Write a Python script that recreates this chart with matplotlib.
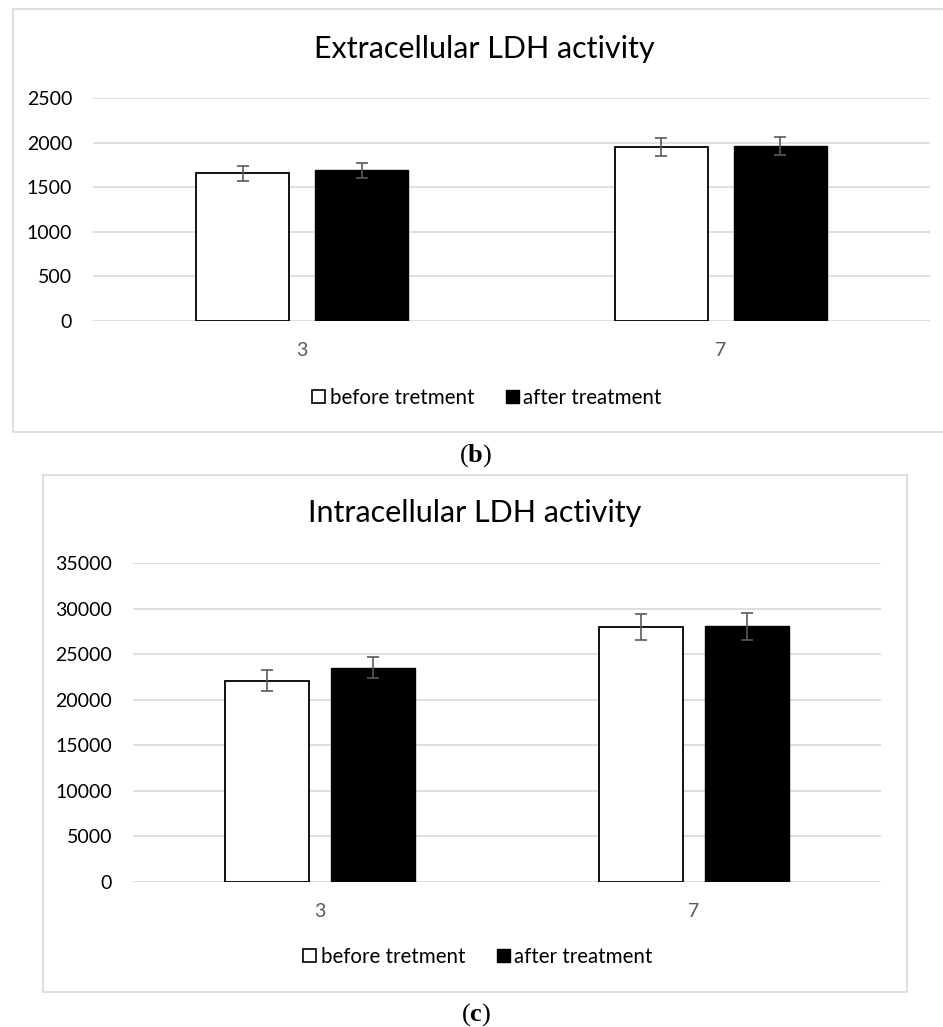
import numpy as np
import matplotlib.pyplot as plt
from matplotlib.lines import Line2D
from matplotlib.patches import Patch

plt.rcParams['font.family'] = ['Lato', 'DejaVu Sans']
plt.rcParams['mathtext.fontset'] = 'custom'
plt.rcParams['mathtext.rm'] = 'Liberation Serif'
plt.rcParams['mathtext.bf'] = 'Liberation Serif:bold'

days = ['3', '7']
series_names = ['before tretment', 'after treatment']

extra_before = [1655, 1950]
extra_before_err = [85, 100]
extra_after = [1690, 1962]
extra_after_err = [86, 103]

intra_before = [22100, 28000]
intra_before_err = [1120, 1400]
intra_after = [23500, 28050]
intra_after_err = [1170, 1450]

W, H = 943, 1027
fig = plt.figure(figsize=(W / 100, H / 100), dpi=100)

GRID = '#D9D9D9'
ERR = '#595959'


def fx(x):
    return x / W


def fy(y):
    return 1 - y / H


def frame(x0, y0, x1, y1, right=True):
    # chart-area border; the upper chart runs past the right edge of the page
    xs = [x1, x0, x0, x1] + ([x1] if right else [])
    ys = [y0, y0, y1, y1] + ([y0] if right else [])
    fig.add_artist(Line2D([fx(v) for v in xs], [fy(v) for v in ys],
                          transform=fig.transFigure, color=GRID, lw=1.2))


def panel(plot, title, cx, title_y, legend_y, label, label_y, ymax, step,
          before, before_err, after, after_err):
    px0, py0, px1, py1 = plot
    ax = fig.add_axes([fx(px0), fy(py1), fx(px1 - px0), (py1 - py0) / H])

    x = np.arange(len(days))
    width = 0.223
    off = 0.142
    ekw = dict(ecolor=ERR, elinewidth=1.2, capsize=4, capthick=1.2, zorder=4)
    ax.bar(x - off, before, width, color='white', edgecolor='black', lw=1.3,
           yerr=before_err, error_kw=ekw, zorder=3, label=series_names[0])
    ax.bar(x + off, after, width, color='black', edgecolor='black', lw=1.0,
           yerr=after_err, error_kw=ekw, zorder=3, label=series_names[1])

    ax.set_xlim(-0.5, len(days) - 0.5)
    ax.set_ylim(0, ymax)
    ax.set_yticks(np.arange(0, ymax + 1, step))
    ax.set_xticks(x)
    ax.set_xticklabels(days)
    ax.yaxis.grid(True, color=GRID, lw=1.2)
    ax.set_axisbelow(True)
    for s in ax.spines.values():
        s.set_visible(False)
    ax.tick_params(axis='both', length=0, labelsize=14)
    ax.tick_params(axis='y', pad=15, labelcolor='black')
    ax.tick_params(axis='x', pad=15, labelcolor=ERR)

    fig.text(fx(cx), fy(title_y), title, ha='center', va='center',
             fontsize=22, color='black')

    handles = [Patch(facecolor='white', edgecolor='black', lw=1.2),
               Patch(facecolor='black', edgecolor='black')]
    fig.legend(handles, series_names, loc='center', ncol=2,
               bbox_to_anchor=(fx(cx + 3), fy(legend_y)), frameon=False,
               fontsize=14.8, handlelength=0.62, handleheight=0.62,
               handletextpad=0.22, columnspacing=1.55)

    fig.text(fx(476), fy(label_y), '($\\mathbf{' + label + '}$)',
             ha='center', va='center', fontsize=19,
             family='Liberation Serif')
    return ax


frame(13, 9, W, 432, right=False)
panel((93, 98, 930, 321), 'Extracellular LDH activity', 484,
      49, 398, 'b', 456, 2500, 500,
      extra_before, extra_before_err, extra_after, extra_after_err)

frame(43, 475, 907, 992)
panel((133, 563, 881, 882), 'Intracellular LDH activity', 475,
      513, 957, 'c', 1015, 35000, 5000,
      intra_before, intra_before_err, intra_after, intra_after_err)

fig.savefig('out.png', dpi=100, facecolor='white')
